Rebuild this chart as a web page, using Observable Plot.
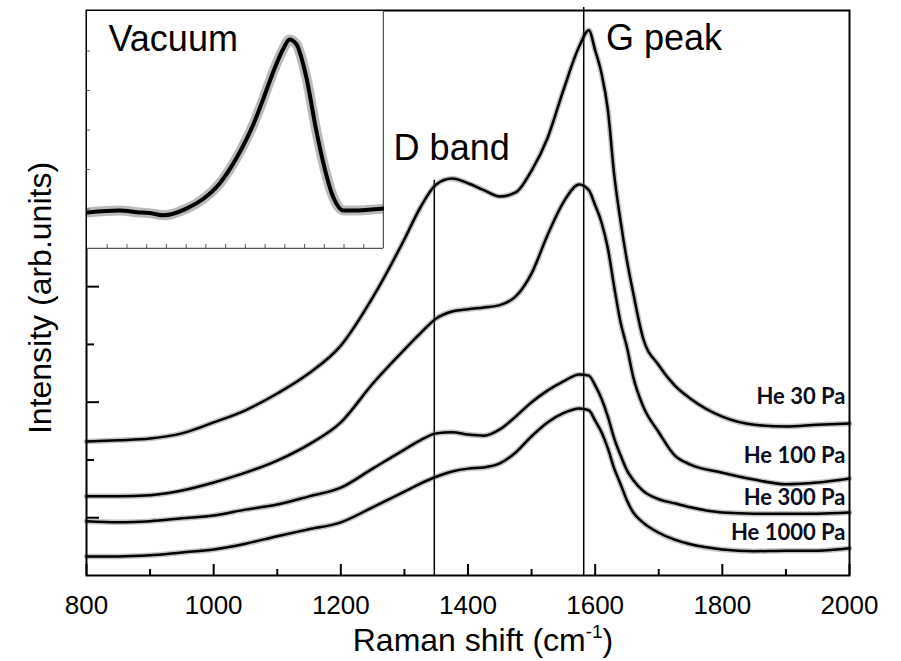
<!DOCTYPE html>
<html>
<head>
<meta charset="utf-8">
<script src="https://cdn.jsdelivr.net/npm/d3@7"></script>
<script src="https://cdn.jsdelivr.net/npm/@observablehq/plot@0.6"></script>
<style>
  html, body { margin: 0; padding: 0; background: #fff; }
  #wrap { position: relative; width: 901px; height: 661px; overflow: hidden; background: #fff; }
  #inset { position: absolute; left: 87px; top: 11px; }
  #inset svg, #main svg { display: block; }
</style>
</head>
<body>
<div id="wrap"><div id="main"></div><div id="inset"></div></div>
<script>
// ---- data ----
const wavenumbers = [800,850,900,950,1000,1050,1100,1150,1200,1250,1300,1325,1350,1375,1400,1425,1450,1475,1500,1525,1550,1575,1590,1600,1610,1620,1630,1640,1650,1660,1675,1700,1725,1750,1800,1850,1900,1950,2000];
const he30   = [232,234,237,246,265,286,315,350,398,481,582,637,677,687,679,667,656,663,701,757,840,916,944,909,869,806,693,613,545,488,412,364,329,306,275,261,258,261,263];
const he100  = [137,137,139,147,161,178,199,227,265,332,391,419,445,457,461,464,468,483,523,589,646,677,667,641,611,566,499,438,395,343,294,248,208,192,178,166,158,161,168];
const he300  = [94,92,94,99,104,114,123,137,152,185,218,234,246,248,244,242,253,275,300,320,336,348,346,329,306,275,237,208,182,165,147,132,125,118,109,107,107,107,109];
const he1000 = [33,33,35,40,45,55,68,80,92,118,145,159,171,180,185,187,194,213,241,265,281,289,286,268,248,220,185,158,130,109,92,74,62,54,45,42,43,43,47];
const seriesNames = ["He 30 Pa", "He 100 Pa", "He 300 Pa", "He 1000 Pa"];

const vacuumShift     = [800, 930, 1000, 1068, 1108, 1201, 1270, 1335, 1404, 1473, 1514, 1554, 1595, 1619, 1647, 1688, 1728, 1757, 1797, 1838, 1878, 1940, 2000];
const vacuumIntensity = [0.91, 0.96, 0.92, 0.88, 0.84, 1.01, 1.26, 1.64, 2.29, 3.15, 3.81, 4.49, 5.07, 5.29, 5.17, 4.31, 2.97, 2.14, 1.29, 0.96, 0.96, 0.98, 1.01];

const xTickLabels = [800, 1000, 1200, 1400, 1600, 1800, 2000];
const xMinorTicks = [900, 1100, 1300, 1500, 1700, 1900];
const yMajorTicks = [100, 300, 500, 700, 900];
const yMinorTicks = [200, 400, 600, 800];
const insetXTicks = [880, 960, 1040, 1120, 1200, 1280, 1360, 1440, 1520, 1600, 1680, 1760, 1840, 1920];
const insetYTicks = [1, 2, 3, 4, 5];
const dBandShift = 1347;
const gPeakShift = 1582;

// ---- tables ----
const seriesValues = [he30, he100, he300, he1000];
const rows = seriesNames.flatMap((name, k) =>
  seriesValues[k].map((v, i) => ({ name, shift: wavenumbers[i], intensity: v })));
const vacuum = vacuumShift.map((s, i) => ({ shift: s, intensity: vacuumIntensity[i] }));
const lastPoints = seriesNames.map((name, k) => ({ name, intensity: seriesValues[k][seriesValues[k].length - 1] }));
const labelOffsets = [-27, -22, -15, -15];

const FONT = "'Liberation Sans', Arial, Helvetica, sans-serif";

const main = Plot.plot({
  width: 901,
  height: 661,
  marginLeft: 86,
  marginRight: 52,
  marginTop: 10,
  marginBottom: 86,
  x: { domain: [800, 2000] },
  y: { domain: [0, 978], axis: null },
  style: { fontFamily: FONT, background: "#fff", color: "#000", overflow: "visible" },
  marks: [
    Plot.axisX(xTickLabels, { tickSize: 0, tickPadding: 20, fontSize: 26, tickFormat: d => `${d}`, label: null }),
    Plot.tickX(xTickLabels, { x: d => d, insetTop: 554, stroke: "#000", strokeWidth: 2 }),
    Plot.tickX(xMinorTicks, { x: d => d, insetTop: 559, stroke: "#000", strokeWidth: 2 }),
    Plot.tickY(yMajorTicks, { y: d => d, insetRight: 750, stroke: "#000", strokeWidth: 2 }),
    Plot.tickY(yMinorTicks, { y: d => d, insetRight: 755, stroke: "#000", strokeWidth: 2 }),
    Plot.ruleX([dBandShift], { y1: 0, y2: 684, stroke: "#000", strokeWidth: 1.5 }),
    Plot.ruleX([gPeakShift], { y1: 0, y2: 983, stroke: "#000", strokeWidth: 1.5, clip: false }),
    Plot.line(rows, { x: "shift", y: "intensity", z: "name", curve: "monotone-x", stroke: "#666", strokeOpacity: 0.4, strokeWidth: 5.5 }),
    Plot.line(rows, { x: "shift", y: "intensity", z: "name", curve: "monotone-x", stroke: "#000", strokeWidth: 2.5 }),
    Plot.frame({ stroke: "#000", strokeWidth: 2 }),
    Plot.text(lastPoints, {
      x: () => 2000, y: "intensity", text: "name",
      textAnchor: "end", dx: -4,
      fontFamily: "Lato, 'Open Sans', sans-serif", fontWeight: "bold", fontSize: 22, fill: "#0c0c1c",
      lineAnchor: "middle"
    }),
    Plot.text(["D band"], { x: () => 1283, y: () => 719, text: d => d, textAnchor: "start", lineAnchor: "bottom", fontSize: 36, fill: "#000" }),
    Plot.text(["G peak"], { x: () => 1617, y: () => 909, text: d => d, textAnchor: "start", lineAnchor: "bottom", fontSize: 36, fill: "#000" }),
    Plot.text(["Intensity (arb.units)"], { frameAnchor: "left", rotate: -90, dx: -46, dy: 5, text: d => d, fontSize: 32, fill: "#000", textAnchor: "middle", lineAnchor: "middle" })
  ]
});

// shift each series label above its curve end (per-label pixel offsets)
d3.select(main).selectAll("text").filter(function () { return seriesNames.includes(this.textContent); })
  .each(function () {
    const k = seriesNames.indexOf(this.textContent);
    const cur = this.getAttribute("transform") || "";
    this.setAttribute("transform", cur + ` translate(0,${labelOffsets[k]})`);
  });

// x-axis title with superscript
const title = d3.select(main).append("text")
  .attr("x", 483).attr("y", 651)
  .attr("text-anchor", "middle")
  .attr("font-family", FONT).attr("font-size", 32).attr("fill", "#000");
title.append("tspan").text("Raman shift (cm");
title.append("tspan").attr("dy", -13).attr("font-size", 19).text("-1");
title.append("tspan").attr("dy", 13).text(")");

document.getElementById("main").appendChild(main);

const inset = Plot.plot({
  width: 297,
  height: 238,
  marginLeft: 0,
  marginRight: 1,
  marginTop: 0,
  marginBottom: 1,
  x: { domain: [800, 2000], axis: null },
  y: { domain: [0, 6], axis: null },
  style: { fontFamily: FONT, background: "#fff", color: "#000" },
  marks: [
    Plot.tickX(insetXTicks, { x: d => d, insetTop: 233, stroke: "#555", strokeWidth: 1 }),
    Plot.tickY(insetYTicks, { y: d => d, insetRight: 293, stroke: "#555", strokeWidth: 1 }),
    Plot.ruleX([2000], { stroke: "#555", strokeWidth: 1.5 }),
    Plot.ruleY([0], { stroke: "#555", strokeWidth: 1.5 }),
    Plot.line(vacuum, { x: "shift", y: "intensity", curve: "monotone-x", stroke: "#666", strokeOpacity: 0.45, strokeWidth: 10 }),
    Plot.line(vacuum, { x: "shift", y: "intensity", curve: "monotone-x", stroke: "#000", strokeWidth: 4 }),
    Plot.text(["Vacuum"], { frameAnchor: "top-left", dx: 21, dy: 39, text: d => d, textAnchor: "start", lineAnchor: "bottom", fontSize: 36, fill: "#000" })
  ]
});
document.getElementById("inset").appendChild(inset);
</script>
</body>
</html>
